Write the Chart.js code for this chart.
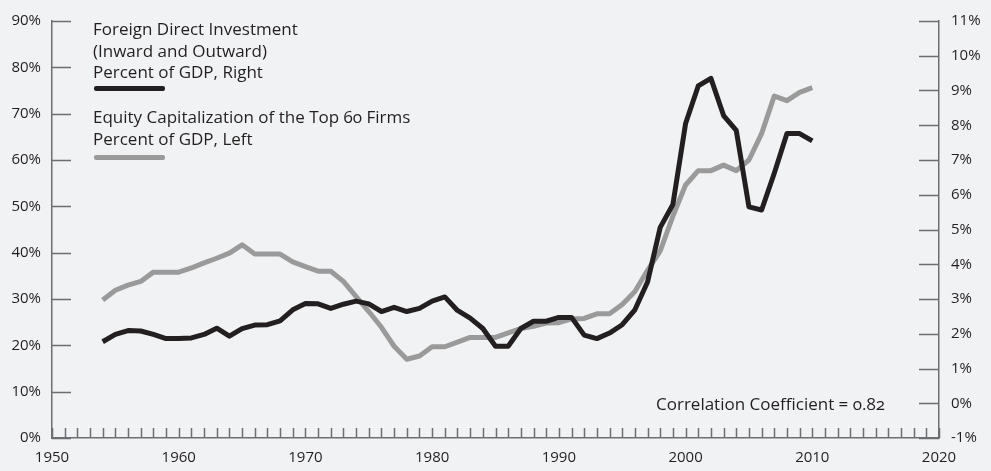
<!DOCTYPE html>
<html>
<head>
<meta charset="utf-8">
<script src="https://cdn.jsdelivr.net/npm/chart.js@4.4.1/dist/chart.umd.min.js"></script>
<style>
  body { margin: 0; background: #f1f2f4; }
  #wrap { position: relative; width: 991px; height: 471px; background: #f1f2f4; font-family: "Open Sans", Lato, sans-serif; color: #231f20; }
  canvas { position: absolute; left: 0; top: 0; }
  .legend { position: absolute; left: 93px; font-size: 17px; line-height: 21.7px; white-space: nowrap; font-variant-numeric: oldstyle-nums; }
  .swatch { position: absolute; left: 94px; width: 71px; height: 5px; border-radius: 2px; }
  #corr { position: absolute; left: 656px; top: 392px; font-size: 17px; line-height: 24px; font-variant-numeric: oldstyle-nums; }
</style>
</head>
<body>
<div id="wrap">
  <canvas id="chart" width="991" height="471"></canvas>
  <div class="legend" style="top:18px">Foreign Direct Investment<br>(Inward and Outward)<br>Percent of GDP, Right</div>
  <div class="swatch" style="top:86px; background:#231f20"></div>
  <div class="legend" style="top:106px">Equity Capitalization of the Top 60 Firms<br>Percent of GDP, Left</div>
  <div class="swatch" style="top:155px; background:#9a9a9a"></div>
  <div id="corr">Correlation Coefficient = 0.82</div>
</div>
<script>
// jaren
const years = [1954, 1955, 1956, 1957, 1958, 1959, 1960, 1961, 1962, 1963,
  1964, 1965, 1966, 1967, 1968, 1969, 1970, 1971, 1972, 1973,
  1974, 1975, 1976, 1977, 1978, 1979, 1980, 1981, 1982, 1983,
  1984, 1985, 1986, 1987, 1988, 1989, 1990, 1991, 1992, 1993,
  1994, 1995, 1996, 1997, 1998, 1999, 2000, 2001, 2002, 2003,
  2004, 2005, 2006, 2007, 2008, 2009, 2010];

// FDI, % of GDP (right axis)
const fdi = [1.77, 1.98, 2.09, 2.08, 1.98, 1.86, 1.86, 1.88, 1.98, 2.16,
  1.93, 2.15, 2.25, 2.26, 2.37, 2.69, 2.87, 2.86, 2.73, 2.85,
  2.94, 2.86, 2.64, 2.76, 2.64, 2.73, 2.94, 3.06, 2.67, 2.45,
  2.15, 1.64, 1.64, 2.15, 2.36, 2.36, 2.47, 2.47, 1.96, 1.86,
  2.02, 2.26, 2.69, 3.49, 5.06, 5.72, 8.05, 9.13, 9.35, 8.28,
  7.85, 5.65, 5.56, 6.62, 7.76, 7.76, 7.55];

// equity cap of top 60 firms, % of GDP (left axis)
const equity = [29.8, 31.9, 33.0, 33.8, 35.8, 35.8, 35.8, 36.7, 37.8, 38.8,
  39.9, 41.7, 39.7, 39.7, 39.7, 38.0, 37.0, 36.0, 36.0, 33.8,
  30.5, 27.3, 23.9, 19.8, 17.0, 17.7, 19.7, 19.7, 20.7, 21.7,
  21.7, 21.7, 22.7, 23.6, 24.1, 24.8, 24.9, 25.7, 25.8, 26.8,
  26.8, 28.8, 31.6, 36.2, 40.4, 47.9, 54.6, 57.7, 57.7, 58.9,
  57.7, 60.0, 65.7, 73.8, 72.8, 74.6, 75.6];

const axisColor = '#6d6e71';
const textColor = '#231f20';

function toPoints(vals) {
  return years.map((y, i) => ({ x: y, y: vals[i] }));
}

// tick marks pointing inward, drawn from the scales themselves
const innerTicks = {
  id: 'innerTicks',
  beforeDatasetsDraw(chart) {
    const { ctx, chartArea } = chart;
    const sx = chart.scales.x, sl = chart.scales.yL, sr = chart.scales.yR;
    ctx.save();
    ctx.strokeStyle = axisColor;
    ctx.lineWidth = 1.5;
    ctx.beginPath();
    sx.ticks.forEach(t => {
      const px = Math.round(sx.getPixelForValue(t.value)) + 0.5;
      ctx.moveTo(px, chartArea.bottom);
      ctx.lineTo(px, chartArea.bottom - 10);
    });
    sl.ticks.forEach(t => {
      const py = Math.round(sl.getPixelForValue(t.value)) + 0.5;
      ctx.moveTo(chartArea.left, py);
      ctx.lineTo(chartArea.left + 19, py);
    });
    sr.ticks.forEach(t => {
      const py = Math.round(sr.getPixelForValue(t.value)) + 0.5;
      ctx.moveTo(chartArea.right, py);
      ctx.lineTo(chartArea.right - 20, py);
    });
    ctx.stroke();
    ctx.restore();
  }
};

const tickFont = { family: '"Open Sans", Lato, sans-serif', size: 15 };

new Chart(document.getElementById('chart'), {
  type: 'line',
  data: {
    datasets: [{
      label: 'Foreign Direct Investment (Inward and Outward) Percent of GDP, Right',
      data: toPoints(fdi),
      yAxisID: 'yR',
      borderColor: '#231f20',
      borderWidth: 5,
      pointRadius: 0,
      tension: 0,
      borderJoinStyle: 'round'
    }, {
      label: 'Equity Capitalization of the Top 60 Firms Percent of GDP, Left',
      data: toPoints(equity),
      yAxisID: 'yL',
      borderColor: '#9a9a9a',
      borderWidth: 5,
      pointRadius: 0,
      tension: 0,
      borderJoinStyle: 'round'
    }]
  },
  options: {
    responsive: false,
    animation: false,
    layout: { padding: { top: 16, left: 0, right: 0, bottom: 0 } },
    plugins: { legend: { display: false }, tooltip: { enabled: false } },
    scales: {
      x: {
        type: 'linear',
        min: 1950,
        max: 2020,
        grid: { display: false, drawTicks: false },
        border: { display: true, color: axisColor, width: 1.5 },
        ticks: {
          stepSize: 1,
          autoSkip: false,
          maxRotation: 0,
          padding: 11,
          color: textColor,
          font: tickFont,
          callback: v => (v % 10 === 0 ? String(v) : '')
        },
        afterFit: s => { s.height = 33; }
      },
      yL: {
        position: 'left',
        min: 0,
        max: 90,
        grid: { display: false, drawTicks: false },
        border: { display: true, color: axisColor, width: 1.5 },
        ticks: { stepSize: 10, padding: 11, color: textColor, font: tickFont, callback: v => v + '%' },
        afterFit: s => { s.width = 52; }
      },
      yR: {
        position: 'right',
        min: -1,
        max: 11,
        grid: { display: false, drawTicks: false },
        border: { display: true, color: axisColor, width: 1.5 },
        ticks: { stepSize: 1, padding: 12, color: textColor, font: tickFont, callback: v => v + '%' },
        afterFit: s => { s.width = 52; }
      }
    }
  },
  plugins: [innerTicks]
});
</script>
</body>
</html>
